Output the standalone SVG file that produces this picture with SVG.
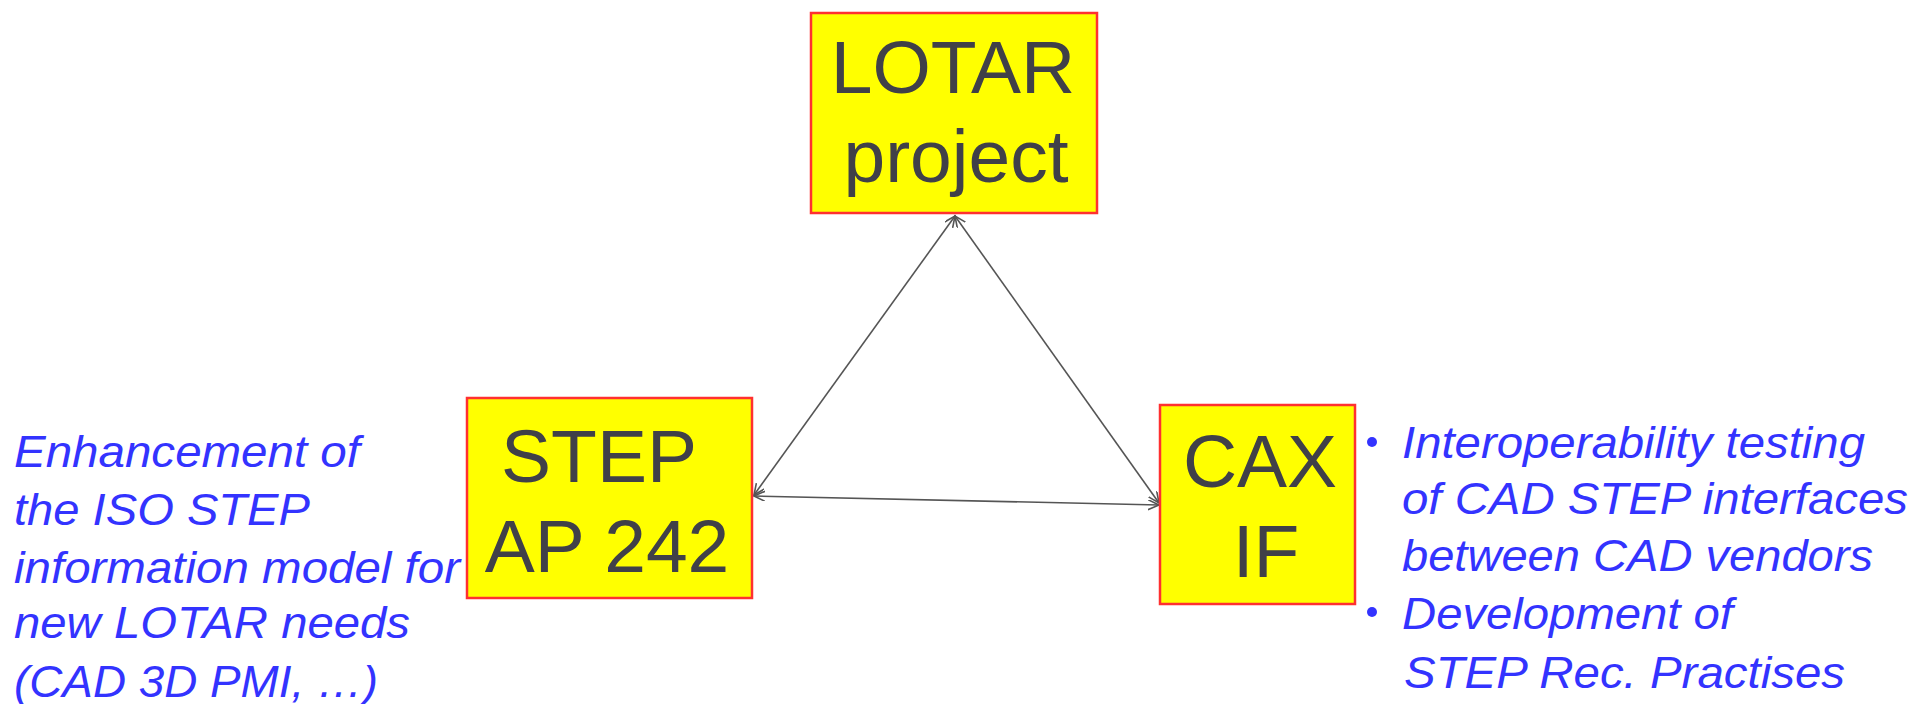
<svg xmlns="http://www.w3.org/2000/svg" width="1920" height="704" viewBox="0 0 1920 704">
  <defs>
    <style>
      .box { fill: #ffff00; stroke: #ff3030; stroke-width: 2.5; }
      .bt { font-family: "Liberation Sans", Arial, sans-serif; font-size: 75px; fill: #404048; text-anchor: middle; }
      .note { font-family: "Liberation Sans", Arial, sans-serif; font-size: 44px; font-style: italic; fill: #3333ff; }
      .conn { stroke: #555555; stroke-width: 1.6; fill: none; marker-start: url(#arr); marker-end: url(#arr); }
      .bullet { fill: #3333ff; }
    </style>
    <marker id="arr" markerUnits="userSpaceOnUse" markerWidth="14" markerHeight="12" refX="11" refY="5" orient="auto-start-reverse" viewBox="0 0 14 12">
      <path d="M0,0 L11,5 L0,10" fill="none" stroke="#555555" stroke-width="1.6"/>
    </marker>
  </defs>
  <rect width="1920" height="704" fill="#ffffff"/>

  <g id="connectors">
    <line class="conn" x1="955" y1="216" x2="754" y2="495"/>
    <line class="conn" x1="955" y1="216" x2="1159" y2="503"/>
    <line class="conn" x1="754" y1="496" x2="1159" y2="505"/>
  </g>

  <g id="node-lotar">
    <rect class="box" x="811" y="13" width="286" height="200"/>
    <text class="bt" x="953" y="93">LOTAR</text>
    <text class="bt" x="956" y="182">project</text>
  </g>

  <g id="node-step">
    <rect class="box" x="467" y="398" width="285" height="200"/>
    <text class="bt" x="599" y="482">STEP</text>
    <text class="bt" x="607" y="572">AP 242</text>
  </g>

  <g id="node-cax">
    <rect class="box" x="1160" y="405" width="195" height="199"/>
    <text class="bt" x="1260" y="487">CAX</text>
    <text class="bt" x="1266" y="577">IF</text>
  </g>

  <g id="note-left">
    <text class="note" x="14" y="467" textLength="346" lengthAdjust="spacingAndGlyphs">Enhancement of</text>
    <text class="note" x="14" y="525" textLength="296" lengthAdjust="spacingAndGlyphs">the ISO STEP</text>
    <text class="note" x="14" y="583" textLength="446" lengthAdjust="spacingAndGlyphs">information model for</text>
    <text class="note" x="14" y="638" textLength="396" lengthAdjust="spacingAndGlyphs">new LOTAR needs</text>
    <text class="note" x="14" y="697" textLength="364" lengthAdjust="spacingAndGlyphs">(CAD 3D PMI, …)</text>
  </g>

  <g id="note-right">
    <circle class="bullet" cx="1372" cy="442" r="5"/>
    <circle class="bullet" cx="1372" cy="612" r="5"/>
    <text class="note" x="1402" y="458" textLength="463" lengthAdjust="spacingAndGlyphs">Interoperability testing</text>
    <text class="note" x="1402" y="514" textLength="506" lengthAdjust="spacingAndGlyphs">of CAD STEP interfaces</text>
    <text class="note" x="1402" y="571" textLength="471" lengthAdjust="spacingAndGlyphs">between CAD vendors</text>
    <text class="note" x="1402" y="629" textLength="331" lengthAdjust="spacingAndGlyphs">Development of</text>
    <text class="note" x="1404" y="688" textLength="441" lengthAdjust="spacingAndGlyphs">STEP Rec. Practises</text>
  </g>
</svg>
